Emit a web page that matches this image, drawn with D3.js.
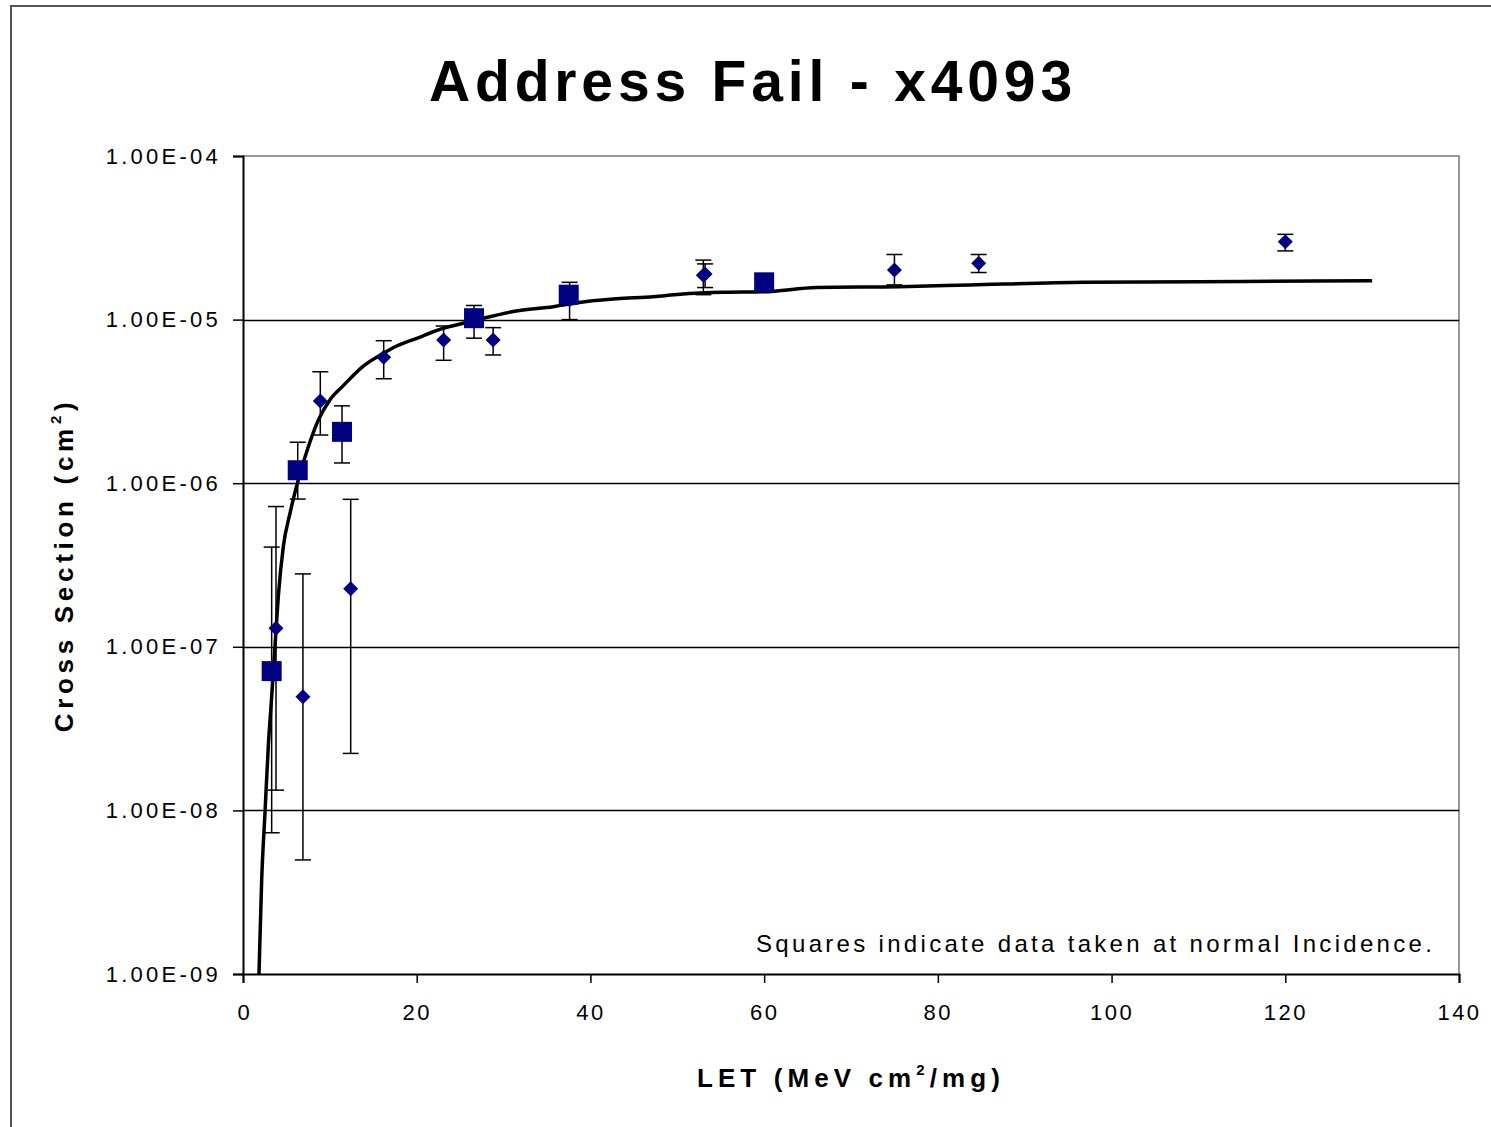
<!DOCTYPE html>
<html>
<head>
<meta charset="utf-8">
<script src="https://cdn.jsdelivr.net/npm/d3@7"></script>
<style>
  body { margin: 0; background: #fff; }
  text { font-family: "Liberation Sans", Arial, sans-serif; fill: #000; }
</style>
</head>
<body>
<script>
// Data
const squareLET = [3.3, 6.3, 11.4, 26.6, 37.5, 60.0];
const squareCS = [7.1e-8, 1.2e-6, 2.06e-6, 1.02e-5, 1.42e-5, 1.69e-5];
const squareLo = [7.3e-9, 8.0e-7, 1.33e-6, 7.7e-6, null, null];
const squareHi = [4.07e-7, 1.78e-6, 2.97e-6, 1.22e-5, null, null];

const diamondLET = [3.8, 6.9, 8.9, 12.4, 16.2, 23.1, 28.8, 37.6, 53.0, 53.2, 75.0, 84.7, 120.0];
const diamondCS = [1.3e-7, 4.95e-8, 3.18e-6, 2.26e-7, 5.88e-6, 7.5e-6, 7.5e-6, 1.32e-5, 1.87e-5, 1.9e-5, 2.01e-5, 2.21e-5, 2.99e-5];
const diamondLo = [1.33e-8, 4.98e-9, 1.97e-6, 2.23e-8, 4.35e-6, 5.64e-6, 6.08e-6, 1.0e-5, 1.42e-5, 1.57e-5, 1.63e-5, 1.94e-5, 2.63e-5];
const diamondHi = [7.2e-7, 2.79e-7, 4.8e-6, 7.97e-7, 7.43e-6, 9.14e-6, 8.93e-6, 1.69e-5, 2.31e-5, 2.19e-5, 2.5e-5, 2.5e-5, 3.32e-5];

// Weibull fit curve
const fitLET = [1.84, 2.15, 2.53, 2.91, 3.30, 3.68, 4.06, 4.64, 5.41, 6.37, 7.52, 8.67, 10.0, 11.55, 13.85, 16.15, 17.7, 20.0, 23.06, 25.36, 27.67, 31.12, 35.72, 39.57, 43.02, 47.24, 50.31, 55.3, 59.9, 66.05, 75.56, 83.76, 96.94, 115.13, 130.0];
const fitCS = [1e-9, 3.76e-9, 9.64e-9, 2.45e-8, 4.95e-8, 1.0e-7, 2.02e-7, 4.09e-7, 6.55e-7, 1.05e-6, 1.67e-6, 2.43e-6, 3.23e-6, 3.95e-6, 5.2e-6, 6.22e-6, 6.9e-6, 7.69e-6, 8.85e-6, 9.49e-6, 1.02e-5, 1.12e-5, 1.2e-5, 1.29e-5, 1.34e-5, 1.38e-5, 1.43e-5, 1.47e-5, 1.48e-5, 1.57e-5, 1.59e-5, 1.63e-5, 1.69e-5, 1.71e-5, 1.73e-5];

const xTicks = [0, 20, 40, 60, 80, 100, 120, 140];
const yTicks = [1e-4, 1e-5, 1e-6, 1e-7, 1e-8, 1e-9];
const yTickLabels = ["1.00E-04", "1.00E-05", "1.00E-06", "1.00E-07", "1.00E-08", "1.00E-09"];

const w = 1491;
const h = 1127;
const plotLeft = 243, plotRight = 1459, plotTop = 156, plotBottom = 974;

const svg = d3.select("body").append("svg").attr("width", w).attr("height", h);

// spread letters so a text hits a measured width
function fitWidth(sel, target) {
	sel.each(function () {
		const n = this.textContent.length;
		const natural = this.getComputedTextLength();
		d3.select(this).attr("letter-spacing", ((target - natural) / (n - 1)).toFixed(2));
	});
}

// outer frame
svg.append("path")
	.attr("d", `M11,${h} L11,6 L${w},6`)
	.attr("fill", "none")
	.attr("stroke", "#555")
	.attr("stroke-width", 2);

const x = d3.scaleLinear().domain([0, 140]).range([plotLeft, plotRight]);
const y = d3.scaleLog().domain([1e-9, 1e-4]).range([plotBottom, plotTop]);

// plot area border (top/right gray)
svg.append("path")
	.attr("d", `M${plotLeft},${plotTop} L${plotRight},${plotTop} L${plotRight},${plotBottom}`)
	.attr("fill", "none")
	.attr("stroke", "#999")
	.attr("stroke-width", 2);

// gridlines
svg.append("g")
	.selectAll("line")
	.data(yTicks.slice(1, 5))
	.join("line")
	.attr("x1", plotLeft)
	.attr("x2", plotRight)
	.attr("y1", (d) => Math.round(y(d)) + 0.5)
	.attr("y2", (d) => Math.round(y(d)) + 0.5)
	.attr("stroke", "#000")
	.attr("stroke-width", 1.5);

// x axis
const xAxis = d3.axisBottom(x).tickValues(xTicks).tickSize(9).tickPadding(21).tickFormat(d3.format("d"));
const gx = svg.append("g").attr("transform", `translate(0,${plotBottom})`).call(xAxis);
gx.select(".domain").attr("stroke", "#000").attr("stroke-width", 2);
gx.selectAll(".tick line").attr("stroke", "#000").attr("stroke-width", 1.5);
gx.selectAll(".tick text").attr("font-size", 22).attr("font-family", "Liberation Sans, Arial, sans-serif").attr("fill", "#111");
gx.selectAll(".tick text").each(function () {
	const n = this.textContent.length;
	d3.select(this).attr("letter-spacing", n > 1 ? 2.5 : 0);
});

// y axis
const yAxis = d3.axisLeft(y).tickValues(yTicks).tickSize(10).tickPadding(12).tickFormat((d, i) => yTickLabels[i]);
const gy = svg.append("g").attr("transform", `translate(${plotLeft},0)`).call(yAxis);
gy.select(".domain").attr("stroke", "#000").attr("stroke-width", 2);
gy.selectAll(".tick line").attr("stroke", "#000").attr("stroke-width", 1.5);
gy.selectAll(".tick text").attr("font-size", 22).attr("font-family", "Liberation Sans, Arial, sans-serif").attr("fill", "#111");
gy.selectAll(".tick text").call(fitWidth, 112);

// fit curve
const line = d3.line().curve(d3.curveMonotoneX).x((d) => x(d[0])).y((d) => y(d[1]));
svg.append("path")
	.datum(d3.zip(fitLET, fitCS))
	.attr("d", line)
	.attr("fill", "none")
	.attr("stroke", "#000")
	.attr("stroke-width", 3.5);

// error bars
function errorBars(xs, lo, hi) {
	const rows = xs.map((v, i) => ({ x: v, lo: lo[i], hi: hi[i] })).filter((d) => d.lo != null);
	const g = svg.append("g").attr("stroke", "#000").attr("stroke-width", 1.5);
	rows.forEach((d) => {
		const cx = x(d.x);
		g.append("line").attr("x1", cx).attr("x2", cx).attr("y1", y(d.lo)).attr("y2", y(d.hi));
		g.append("line").attr("x1", cx - 8).attr("x2", cx + 8).attr("y1", y(d.lo)).attr("y2", y(d.lo));
		g.append("line").attr("x1", cx - 8).attr("x2", cx + 8).attr("y1", y(d.hi)).attr("y2", y(d.hi));
	});
}
errorBars(squareLET, squareLo, squareHi);
errorBars(diamondLET, diamondLo, diamondHi);

// diamonds
svg.append("g")
	.selectAll("path")
	.data(d3.zip(diamondLET, diamondCS))
	.join("path")
	.attr("d", "M0,-7.5 L7.5,0 L0,7.5 L-7.5,0 Z")
	.attr("transform", (d) => `translate(${x(d[0])},${y(d[1])})`)
	.attr("fill", "#000080");

// squares
svg.append("g")
	.selectAll("rect")
	.data(d3.zip(squareLET, squareCS))
	.join("rect")
	.attr("x", (d) => x(d[0]) - 10)
	.attr("y", (d) => y(d[1]) - 10)
	.attr("width", 20)
	.attr("height", 20)
	.attr("fill", "#000080");

// title
svg.append("text")
	.attr("x", 753)
	.attr("y", 101)
	.attr("text-anchor", "middle")
	.attr("font-size", 57)
	.attr("font-weight", "bold")
	.text("Address Fail - x4093")
	.call(fitWidth, 643);

// annotation
svg.append("text")
	.attr("x", 756)
	.attr("y", 952)
	.attr("font-size", 24)
	.attr("fill", "#111")
	.text("Squares indicate data taken at normal Incidence.")
	.call(fitWidth, 676);

// x axis title
const xt = svg.append("text")
	.attr("x", 851)
	.attr("y", 1087)
	.attr("text-anchor", "middle")
	.attr("font-size", 26)
	.attr("font-weight", "bold");
xt.append("tspan").text("LET (MeV cm");
xt.append("tspan").attr("dy", -12).attr("font-size", 15).text("2");
xt.append("tspan").attr("dy", 12).text("/mg)");
xt.call(fitWidth, 303);

// y axis title
const yt = svg.append("text")
	.attr("transform", "translate(73,565) rotate(-90)")
	.attr("text-anchor", "middle")
	.attr("font-size", 26)
	.attr("font-weight", "bold");
yt.append("tspan").text("Cross Section (cm");
yt.append("tspan").attr("dy", -12).attr("font-size", 15).text("2");
yt.append("tspan").attr("dy", 12).text(")");
yt.call(fitWidth, 330);
</script>
</body>
</html>
